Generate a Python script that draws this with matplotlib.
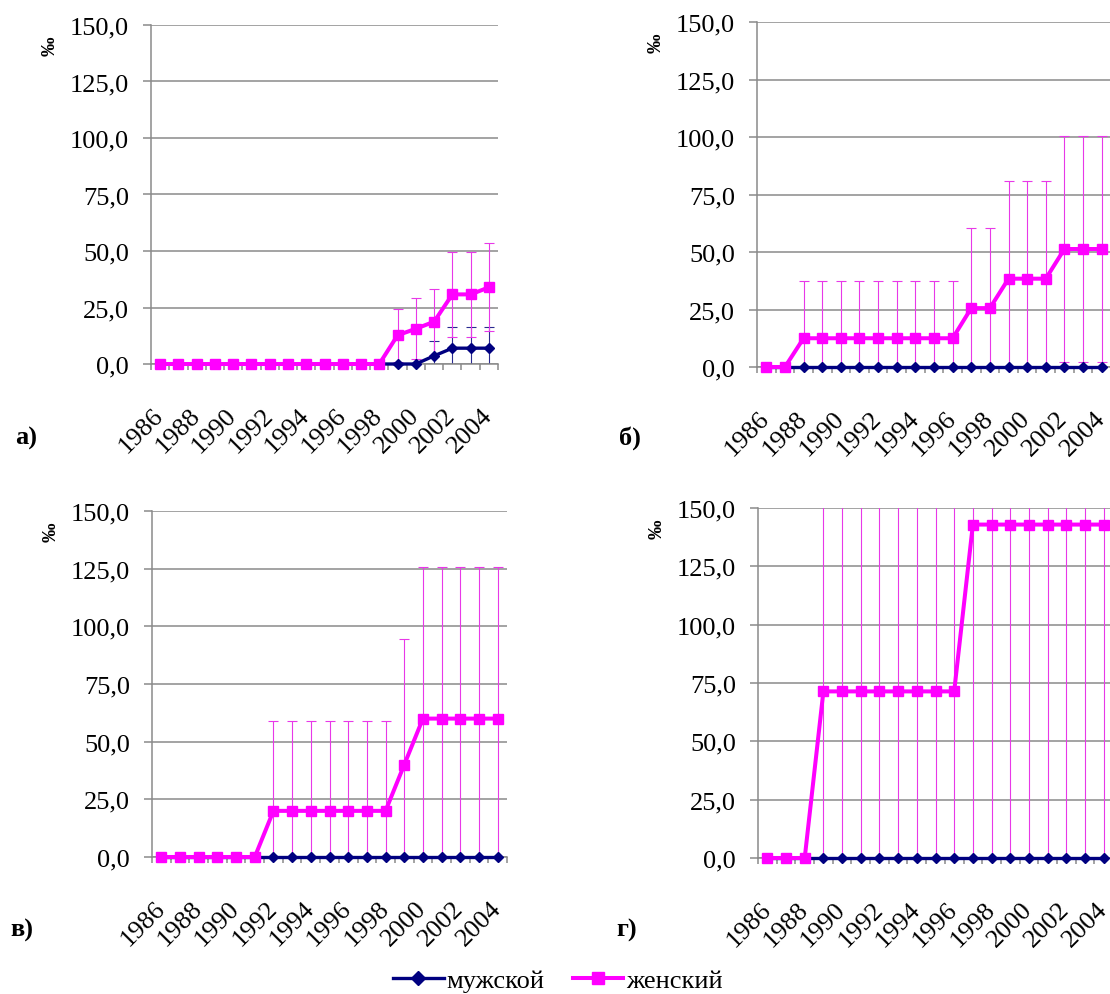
"""Cumulative incidence by year, male vs female, four districts (panels а-г).

Each panel shows the rate per mille for 1986-2004 with confidence intervals
drawn as error bars on the female series (and on the male series where it is
non-zero). Written to out.png.
"""
import matplotlib
matplotlib.use("Agg")
import matplotlib.pyplot as plt
import numpy as np

plt.rcParams["font.family"] = ["Liberation Serif", "DejaVu Serif"]

YEARS = [1986, 1987, 1988, 1989, 1990, 1991, 1992, 1993, 1994, 1995,
         1996, 1997, 1998, 1999, 2000, 2001, 2002, 2003, 2004]
YTICKS = [0, 25, 50, 75, 100, 125, 150]
LEGEND = ["мужской", "женский"]

# panel а
male_a = [0, 0, 0, 0, 0, 0, 0, 0, 0, 0, 0, 0, 0, 0, 0, 3.6, 7.0, 7.0, 7.0]
male_a_err = [0, 0, 0, 0, 0, 0, 0, 0, 0, 0, 0, 0, 0, 0, 0, 6.4, 9.2, 9.2, 9.2]
female_a = [0, 0, 0, 0, 0, 0, 0, 0, 0, 0, 0, 0, 0, 12.7, 15.6, 18.7, 30.8, 30.8, 33.9]
female_a_err = [0, 0, 0, 0, 0, 0, 0, 0, 0, 0, 0, 0, 0, 11.6, 13.5, 14.5, 18.8, 18.8, 19.5]

# panel б
male_b = [0, 0, 0, 0, 0, 0, 0, 0, 0, 0, 0, 0, 0, 0, 0, 0, 0, 0, 0]
male_b_err = [0, 0, 0, 0, 0, 0, 0, 0, 0, 0, 0, 0, 0, 0, 0, 0, 0, 0, 0]
female_b = [0, 0, 12.5, 12.5, 12.5, 12.5, 12.5, 12.5, 12.5, 12.5, 12.5,
            25.6, 25.6, 38.4, 38.4, 38.4, 51.3, 51.3, 51.3]
female_b_err = [0, 0, 25.0, 25.0, 25.0, 25.0, 25.0, 25.0, 25.0, 25.0, 25.0,
                35.0, 35.0, 42.6, 42.6, 42.6, 49.1, 49.1, 49.1]

# panel в
male_c = [0, 0, 0, 0, 0, 0, 0, 0, 0, 0, 0, 0, 0, 0, 0, 0, 0, 0, 0]
male_c_err = [0, 0, 0, 0, 0, 0, 0, 0, 0, 0, 0, 0, 0, 0, 0, 0, 0, 0, 0]
female_c = [0, 0, 0, 0, 0, 0, 20.0, 20.0, 20.0, 20.0, 20.0, 20.0, 20.0,
            40.0, 60.0, 60.0, 60.0, 60.0, 60.0]
female_c_err = [0, 0, 0, 0, 0, 0, 38.8, 38.8, 38.8, 38.8, 38.8, 38.8, 38.8,
                54.4, 65.8, 65.8, 65.8, 65.8, 65.8]

# panel г
male_d = [0, 0, 0, 0, 0, 0, 0, 0, 0, 0, 0, 0, 0, 0, 0, 0, 0, 0, 0]
male_d_err = [0, 0, 0, 0, 0, 0, 0, 0, 0, 0, 0, 0, 0, 0, 0, 0, 0, 0, 0]
female_d = [0, 0, 0, 71.4, 71.4, 71.4, 71.4, 71.4, 71.4, 71.4, 71.4,
            142.9, 142.9, 142.9, 142.9, 142.9, 142.9, 142.9, 142.9]
female_d_err = [0, 0, 0, 135.0, 135.0, 135.0, 135.0, 135.0, 135.0, 135.0, 135.0,
                150.0, 150.0, 150.0, 150.0, 150.0, 150.0, 150.0, 150.0]

NAVY = "#000080"
PINK = "#ff00ff"
GRID = "#8a8a8a"
W, H = 1110, 995

# axes boxes in pixels: left, top, right, bottom
BOXES = {
    "а)": (151, 26, 498, 365),
    "б)": (757, 23, 1111, 368),
    "в)": (152, 512, 507, 858),
    "г)": (758, 509, 1113, 859),
}
LABEL_XY = {"а)": (26, 438), "б)": (630, 438), "в)": (22, 930), "г)": (627, 930)}


def draw_panel(fig, box, male, male_err, female, female_err):
    l, t, r, b = box
    ax = fig.add_axes([l / W, 1 - b / H, (r - l) / W, (b - t) / H])
    x = np.arange(len(YEARS))

    ax.errorbar(x, male, yerr=male_err, fmt="none", ecolor="#2a2a90",
                elinewidth=0.8, capsize=3.3, capthick=0.8, zorder=2)
    ax.errorbar(x, female, yerr=female_err, fmt="none", ecolor="#e838e8",
                elinewidth=0.8, capsize=3.3, capthick=0.8, zorder=2)
    ax.plot(x, male, color=NAVY, lw=2.4, marker="D", ms=5.5, clip_on=False,
            zorder=4, label=LEGEND[0])
    ax.plot(x, female, color=PINK, lw=2.9, marker="s", ms=6.5, clip_on=False,
            zorder=5, label=LEGEND[1])

    ax.set_xlim(-0.5, len(YEARS) - 0.5)
    ax.set_ylim(0, 150)
    ax.set_yticks(YTICKS)
    ax.set_yticklabels([f"{v:.1f}".replace(".", ",") for v in YTICKS])
    ax.set_xticks(x[::2])
    ax.set_xticklabels([str(y) for y in YEARS[::2]], rotation=45, ha="right",
                       rotation_mode="anchor", va="center")
    ax.set_xticks(np.arange(-0.5, len(YEARS)), minor=True)

    ax.grid(axis="y", color=GRID, lw=1.1, zorder=0)
    ax.set_axisbelow(True)
    for side in ("top", "right"):
        ax.spines[side].set_visible(False)
    for side in ("left", "bottom"):
        ax.spines[side].set_color(GRID)
        ax.spines[side].set_linewidth(1.1)
    ax.tick_params(axis="y", length=6, width=1.1, color=GRID, pad=10, labelsize=19)
    ax.tick_params(axis="x", which="major", length=0, pad=34, labelsize=19)
    ax.tick_params(axis="x", which="minor", length=4, width=1.1, color=GRID)

    ax.annotate("‰", xy=(0, 1), xycoords="axes fraction", xytext=(-101, -20),
                textcoords="offset pixels", rotation=90, ha="center", va="center",
                fontsize=14, fontweight="bold")
    return ax


def main():
    fig = plt.figure(figsize=(W / 100, H / 100), dpi=100)
    series = {
        "а)": (male_a, male_a_err, female_a, female_a_err),
        "б)": (male_b, male_b_err, female_b, female_b_err),
        "в)": (male_c, male_c_err, female_c, female_c_err),
        "г)": (male_d, male_d_err, female_d, female_d_err),
    }
    ax = None
    for key, data in series.items():
        ax = draw_panel(fig, BOXES[key], *data)
        lx, ly = LABEL_XY[key]
        fig.text(lx / W, 1 - ly / H, key, ha="center", va="center",
                 fontsize=19, fontweight="bold")

    handles, labels = ax.get_legend_handles_labels()
    fig.legend(handles, labels, loc="center", bbox_to_anchor=(558 / W, 1 - 981 / H),
               ncol=2, frameon=False, fontsize=19, handlelength=1.9,
               handletextpad=0.1, columnspacing=1.1, markerscale=1.3)
    fig.savefig("out.png", dpi=100)


if __name__ == "__main__":
    main()
